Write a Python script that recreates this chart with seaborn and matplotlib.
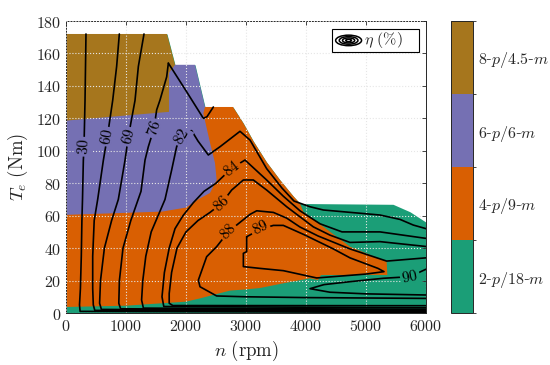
"""
Efficiency map of a pole-changing machine: operating regions of each
winding configuration with efficiency contours on top.
"""

import matplotlib
matplotlib.use("Agg")
import matplotlib.pyplot as plt
import pandas as pd
import seaborn as sns
from matplotlib.cm import ScalarMappable
from matplotlib.colors import BoundaryNorm, ListedColormap
from matplotlib.patches import Ellipse, Rectangle
from matplotlib.ticker import FuncFormatter

sns.set_style("white")
plt.rcParams["font.family"] = ["DejaVu Serif"]
plt.rcParams["mathtext.fontset"] = "cm"

DARK2 = sns.color_palette("Dark2")
GREEN, ORANGE, PURPLE, BROWN = DARK2[0], DARK2[1], DARK2[2], DARK2[6]

# ---- operating regions (speed in rpm, torque in Nm) ----
ENV_N = [0, 1683, 1817, 2150, 2317, 2783, 2956, 3122, 3344, 3567, 3789, 3900, 5450, 5733, 6000]
ENV_T = [172, 172, 153, 153, 127, 127, 117, 106, 93, 82, 72, 67.5, 67, 62.4, 56]

ORANGE_N = [0, 1000, 1600, 2000, 2233, 2511, 2733, 3011, 3233, 3622, 4067, 4200, 4250, 5000,
            5356, 5344, 4733, 3956, 3900, 3789, 3567, 3344, 3122, 2956, 2783, 2317, 0]
ORANGE_T = [3.7, 4.5, 6, 7, 9, 11.7, 13.8, 14.6, 15.4, 18.3, 21.4, 20.3, 23.4, 23.5,
            23.4, 31.6, 40.9, 62.4, 67.5, 72, 82, 93, 106, 117, 127, 127, 127]

PURPLE_N = [0, 800, 1600, 2000, 2200, 2300, 2400, 2511, 2483, 2400, 2289, 2317, 2150, 1800, 0]
PURPLE_T = [60.5, 61.5, 62.5, 65, 70, 72, 74, 82, 92.5, 105, 123, 127, 153, 153, 153]

BROWN_N = [0, 1717, 1717, 1817, 1683, 0]
BROWN_T = [118.6, 124, 148, 153, 172, 172]

REGION_LABELS = [r"$2$-$p/18$-$m$", r"$4$-$p/9$-$m$", r"$6$-$p/6$-$m$", r"$8$-$p/4.5$-$m$"]

# ---- efficiency contours (%) ----
C30_N = [333, 317, 300, 289, 275, 265, 255, 240, 225, 235, 6000]
C30_T = [172, 131, 102.5, 94, 70, 57, 35, 15, 5, 1.0, 0.4]

C60_N = [889, 844, 778, 689, 622, 528, 470, 445, 445, 455, 480, 6000]
C60_T = [172, 152, 131, 108.7, 94, 70, 57, 35, 15, 5, 1.6, 0.8]

C69_N = [1300, 1206, 1150, 1039, 983, 872, 760, 640, 575, 560, 590, 6000]
C69_T = [172, 152, 131, 108.7, 94, 70, 57, 40, 20, 6, 2.2, 1.2]

C76_N = [1706, 1678, 1567, 1511, 1467, 1372, 1317, 1250, 1080, 950, 890, 880, 910, 6000]
C76_T = [154, 145.6, 131.3, 125.2, 113.8, 102.5, 94.3, 75, 57, 40, 20, 6, 2.6, 1.7]

C80_N = [1706, 2000, 2289, 2350, 2456]
C80_T = [154, 137, 120, 121, 127]

C82_N = [6000, 1290, 1260, 1280, 1330, 1420, 1650, 1760, 1844, 1928, 2000, 2094, 2200, 2372,
         2567, 2900, 3067, 3344, 3600, 3800, 4067, 4289, 5233, 5567, 5789, 6000]
C82_T = [2.3, 3.0, 8, 20, 35, 50, 70, 88, 102.5, 108.7, 112, 112.4, 106, 97.4,
         102.5, 112, 106.6, 89, 77, 69, 65.5, 63.5, 60.4, 57.7, 54.2, 52]

C84_N = [6000, 1630, 1600, 1640, 1720, 1817, 1950, 2122, 2300, 2500, 2761, 2983, 3344, 3622,
         3900, 4233, 4600, 5233, 6000]
C84_T = [3.2, 4.0, 10, 25, 40, 52, 60, 68, 75, 80, 89.2, 94.3, 82, 72,
         63, 55, 50, 50, 46]

C86_N = [6000, 1780, 1720, 1720, 1760, 1850, 2000, 2200, 2400, 2594, 2761, 2956, 3122, 3344,
         3678, 4122, 4400, 4733, 5233, 6000]
C86_T = [4.5, 4.6, 6, 12, 25, 40, 50, 57, 62, 67.6, 75.8, 82, 82, 75.8,
         65.5, 53.1, 48, 43.5, 44, 41]

C88_N = [6000, 4000, 3000, 2511, 2233, 2206, 2344, 2511, 2706, 2844, 3067, 3178, 3456, 3678,
         3900, 4200, 4733, 5344, 6000]
C88_T = [9, 9.5, 10, 10.5, 16.2, 20.3, 34.7, 40.9, 50.1, 54.2, 60.8, 63, 62, 58.5,
         53, 47.5, 39.5, 32, 34]

C89_N = [3011, 3233, 3456, 3622, 3956, 4456, 4733, 5200, 5300, 5000, 4178, 3622, 3233, 2956,
         2956, 3011, 3011]
C89_T = [47, 51.5, 54, 54, 48.5, 39.5, 34, 27.5, 25.5, 24, 21.6, 26.1, 27.5, 28.6,
         36.8, 37.8, 47]

C90_N = [6000, 5733, 5289, 4733, 4300, 4067, 4400, 5000, 6000]
C90_T = [27, 22.4, 21.4, 19.3, 17.5, 15, 12.8, 11.8, 11.1]

CONTOURS = {
    "30": (C30_N, C30_T), "60": (C60_N, C60_T), "69": (C69_N, C69_T),
    "76": (C76_N, C76_T), "80": (C80_N, C80_T), "82": (C82_N, C82_T),
    "84": (C84_N, C84_T), "86": (C86_N, C86_T), "88": (C88_N, C88_T),
    "89": (C89_N, C89_T), "90": (C90_N, C90_T),
}

# inline labels: value, speed, torque, angle, background
LABEL_VALUES = [30, 60, 69, 76, 82, 84, 86, 88, 89, 90]
LABEL_N = [300, 689, 1039, 1467, 1928, 2761, 2594, 2706, 3233, 5733]
LABEL_T = [102.5, 108.7, 108.7, 113.8, 108.7, 89.2, 67.6, 50.1, 52.5, 22.4]
LABEL_ROT = [88, 80, 76, 72, 60, 38, 44, 46, 27, 12]
LABEL_BG = [PURPLE, PURPLE, PURPLE, PURPLE, PURPLE, ORANGE, ORANGE, ORANGE, ORANGE, GREEN]


def build_contour_frame():
    frames = []
    for name, (n_vals, t_vals) in CONTOURS.items():
        frames.append(pd.DataFrame({"n": n_vals, "T": t_vals, "line": name}))
    return pd.concat(frames, ignore_index=True)


fig = plt.figure(figsize=(5.5, 3.65), dpi=100)
ax = fig.add_axes([66 / 550, 52 / 365, 360 / 550, 292 / 365])
cax = fig.add_axes([451 / 550, 52 / 365, 22 / 550, 292 / 365])

ax.fill_between(ENV_N, 0, ENV_T, color=GREEN, lw=0, zorder=1)
ax.fill(ORANGE_N, ORANGE_T, color=ORANGE, lw=0, zorder=1)
ax.fill(PURPLE_N, PURPLE_T, color=PURPLE, lw=0, zorder=1)
ax.fill(BROWN_N, BROWN_T, color=BROWN, lw=0, zorder=1)

sns.lineplot(
    data=build_contour_frame(), x="n", y="T", units="line", estimator=None, sort=False,
    color="black", linewidth=1.2, legend=False, ax=ax, zorder=3,
)

for val, n, t, rot, bg in zip(LABEL_VALUES, LABEL_N, LABEL_T, LABEL_ROT, LABEL_BG):
    ax.text(n, t, f"${val}$", rotation=rot, rotation_mode="anchor", ha="center", va="center",
            fontsize=11, color="black", zorder=4,
            bbox=dict(boxstyle="square,pad=0.1", fc=bg, ec="none"))

ax.set_xlim(0, 6000)
ax.set_ylim(0, 180)
ax.set_xticks(range(0, 6001, 1000))
ax.set_yticks(range(0, 181, 20))
fmt = FuncFormatter(lambda v, _: f"${int(v)}$")
ax.xaxis.set_major_formatter(fmt)
ax.yaxis.set_major_formatter(fmt)
ax.tick_params(direction="in", top=True, right=True, length=3, width=0.6, labelsize=11.5,
               colors="#262626")
ax.set_axisbelow(False)
ax.grid(True, ls=":", color="#e6e6e6", lw=0.8)
for spine in ax.spines.values():
    spine.set_color("#262626")
    spine.set_linewidth(0.7)
ax.set_xlabel(r"$n\ \mathrm{(rpm)}$", fontsize=13.5, labelpad=3)
ax.set_ylabel(r"$T_e\ \mathrm{(Nm)}$", fontsize=13.5, labelpad=4)

# legend box with a contour glyph
ax.add_patch(Rectangle((0.739, 0.895), 0.242, 0.077, transform=ax.transAxes,
                       fc="white", ec="black", lw=0.8, zorder=5))
for w, h in [(0.072, 0.036), (0.052, 0.026), (0.034, 0.017), (0.016, 0.008)]:
    ax.add_patch(Ellipse((0.785, 0.9335), w, h, transform=ax.transAxes,
                         fill=False, ec="black", lw=1.1, zorder=6))
ax.text(0.828, 0.9335, r"$\eta\ (\%)$", transform=ax.transAxes, ha="left", va="center",
        fontsize=11.5, zorder=6)

cmap = ListedColormap([GREEN, ORANGE, PURPLE, BROWN])
norm = BoundaryNorm([0.5, 1.5, 2.5, 3.5, 4.5], cmap.N)
cb = fig.colorbar(ScalarMappable(norm=norm, cmap=cmap), cax=cax, ticks=[1, 2, 3, 4])
cb.set_ticklabels(REGION_LABELS)
cb.ax.tick_params(direction="in", length=3, width=0.6, labelsize=11.5, colors="#262626")
cb.outline.set_linewidth(0.7)
cb.outline.set_edgecolor("#262626")

fig.savefig("out.png", dpi=100)
